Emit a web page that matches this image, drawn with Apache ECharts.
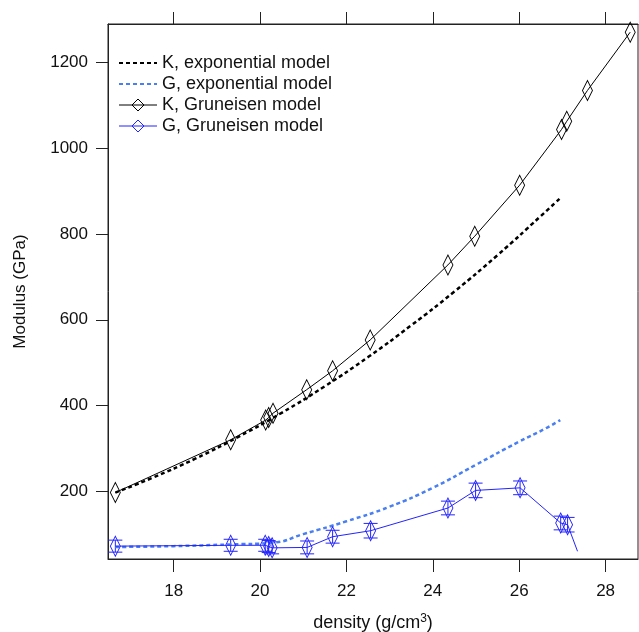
<!DOCTYPE html>
<html>
<head>
<meta charset="utf-8">
<script src="https://cdn.jsdelivr.net/npm/echarts@6.0.0/dist/echarts.min.js"></script>
<style>
  html, body { margin: 0; padding: 0; background: #fff; }
  #chart { width: 639px; height: 632px; }
</style>
</head>
<body>
<div id="chart"></div>
<script>
// K, exponential model (dotted black)
var kExpX = [16.65, 17.5, 18.5, 19.5, 20.5, 21.5, 22.5, 23.5, 24.5, 25.5, 26.5, 26.95];
var kExpY = [197, 231, 276, 327, 383, 445, 513, 587, 666, 751, 842, 884];
// G, exponential model (dashed blue)
var gExpX = [16.65, 18, 19.3, 20.3, 21, 22, 23, 24, 25, 26, 26.6, 26.95];
var gExpY = [70, 72, 76, 80, 100, 130, 164, 208, 262, 316, 346, 366];
// K, Gruneisen model
var kGrX = [16.65, 19.32, 20.13, 20.2, 20.3, 21.08, 21.68, 22.55, 24.35, 24.97, 26.01, 26.98, 27.1, 27.58, 28.57];
var kGrY = [197, 320, 366, 372, 382, 437, 481, 553, 728, 795, 914, 1044, 1063, 1135, 1271];
// G, Gruneisen model with error bars (last point has no marker)
var gGrX = [16.65, 19.32, 20.12, 20.2, 20.28, 21.09, 21.68, 22.56, 24.35, 24.99, 26.02, 26.96, 27.12, 27.35];
var gGrY = [72, 74, 74, 71, 68, 69, 94, 108, 161, 202, 208, 126, 122, 60];
var gGrErr = [14, 14, 14, 14, 14, 15, 15, 17, 16, 17, 16, 16, 17, null];

var xTicks = [18, 20, 22, 24, 26, 28];
var yTicks = [200, 400, 600, 800, 1000, 1200];

var FONT = 'Liberation Sans, Arial, sans-serif';
var BLUE = '#2323ff';
var LBLUE = '#4a7ff2';

function pairs(xs, ys) {
    return xs.map(function (x, i) { return [x, ys[i]]; });
}

var chart = echarts.init(document.getElementById('chart'));

var option = {
    animation: false,
    backgroundColor: '#fff',
    textStyle: { fontFamily: FONT },
    grid: { left: 108, right: 1, top: 24, bottom: 73, containLabel: false, outerBoundsMode: 'none',
            show: true, borderColor: '#222', borderWidth: 1 },
    legend: {
        orient: 'vertical',
        left: 118, top: 54,
        padding: 0,
        itemWidth: 38, itemHeight: 15, itemGap: 3,
        textStyle: { fontSize: 18, color: '#111', fontFamily: FONT },
        data: [
            { name: 'K, exponential model', itemStyle: { opacity: 0 } },
            { name: 'G, exponential model', itemStyle: { opacity: 0 } },
            { name: 'K, Gruneisen model', lineStyle: { width: 1 }, itemStyle: { borderWidth: 1 } },
            { name: 'G, Gruneisen model', lineStyle: { width: 1 }, itemStyle: { borderWidth: 1 } }
        ]
    },
    xAxis: [{
        type: 'value', min: 16.48, max: 28.75,
        axisLine: { show: true, lineStyle: { color: '#222' } },
        axisTick: { show: true, inside: false, length: 13, customValues: xTicks, lineStyle: { color: '#222' } },
        axisLabel: { customValues: xTicks, margin: 24, fontSize: 17, color: '#111', fontFamily: FONT },
        splitLine: { show: false },
        name: '{a|density (g/cm}{s|3}{a|)}',
        nameLocation: 'middle', nameGap: 54,
        nameTextStyle: {
            rich: {
                a: { fontSize: 18, color: '#111', fontFamily: FONT },
                s: { fontSize: 12, color: '#111', fontFamily: FONT, verticalAlign: 'top', padding: [0, 0, 8, 0] }
            }
        }
    }, {
        type: 'value', position: 'top', min: 16.48, max: 28.75,
        axisLine: { show: true, lineStyle: { color: '#222' } },
        axisTick: { show: true, inside: false, length: 12, customValues: xTicks, lineStyle: { color: '#222' } },
        axisLabel: { show: false },
        splitLine: { show: false }
    }],
    yAxis: {
        type: 'value', min: 42, max: 1290,
        axisLine: { show: true, lineStyle: { color: '#222' } },
        axisTick: { show: true, inside: false, length: 12, customValues: yTicks, lineStyle: { color: '#222' } },
        axisLabel: { customValues: yTicks, margin: 20, fontSize: 17, color: '#111', fontFamily: FONT,
                     formatter: function (v) { return String(v); } },
        splitLine: { show: false },
        name: 'Modulus (GPa)',
        nameLocation: 'middle', nameGap: 79,
        nameTextStyle: { fontSize: 17, color: '#111', fontFamily: FONT }
    },
    series: [
        {
            name: 'K, exponential model', type: 'line', smooth: true,
            showSymbol: false, symbol: 'none',
            data: pairs(kExpX, kExpY),
            lineStyle: { color: '#000', width: 2.5, type: [4, 3] },
            itemStyle: { color: '#000' }
        },
        {
            name: 'G, exponential model', type: 'line', smooth: true,
            showSymbol: false, symbol: 'none',
            data: pairs(gExpX, gExpY),
            lineStyle: { color: LBLUE, width: 2.5, type: [4, 3] },
            itemStyle: { color: LBLUE }
        },
        {
            name: 'K, Gruneisen model', type: 'line',
            symbol: 'diamond', symbolSize: [10, 20],
            data: pairs(kGrX, kGrY),
            lineStyle: { color: '#000', width: 1 },
            itemStyle: { color: 'rgba(255,255,255,0)', borderColor: '#000', borderWidth: 1 }
        },
        {
            name: 'G, Gruneisen model', type: 'line',
            symbol: 'diamond', symbolSize: [10, 20],
            data: gGrX.map(function (x, i) {
                var d = { value: [x, gGrY[i]] };
                if (gGrErr[i] === null) d.symbol = 'none';
                return d;
            }),
            lineStyle: { color: BLUE, width: 1 },
            itemStyle: { color: 'rgba(255,255,255,0)', borderColor: BLUE, borderWidth: 1 }
        },
        {
            name: 'err', type: 'custom',
            data: gGrX.map(function (x, i) { return [x, gGrY[i], gGrErr[i] || 0]; })
                      .filter(function (d) { return d[2] > 0; }),
            encode: { x: 0, y: 1 },
            renderItem: function (params, api) {
                var x = api.value(0), y = api.value(1), e = api.value(2);
                var hi = api.coord([x, y + e]);
                var lo = api.coord([x, y - e]);
                var w = 7;
                var st = { stroke: BLUE, lineWidth: 1 };
                return {
                    type: 'group',
                    children: [
                        { type: 'line', shape: { x1: hi[0], y1: hi[1], x2: lo[0], y2: lo[1] }, style: st },
                        { type: 'line', shape: { x1: hi[0] - w, y1: hi[1], x2: hi[0] + w, y2: hi[1] }, style: st },
                        { type: 'line', shape: { x1: lo[0] - w, y1: lo[1], x2: lo[0] + w, y2: lo[1] }, style: st }
                    ]
                };
            },
            z: 3
        }
    ]
};
chart.setOption(option);
</script>
</body>
</html>
